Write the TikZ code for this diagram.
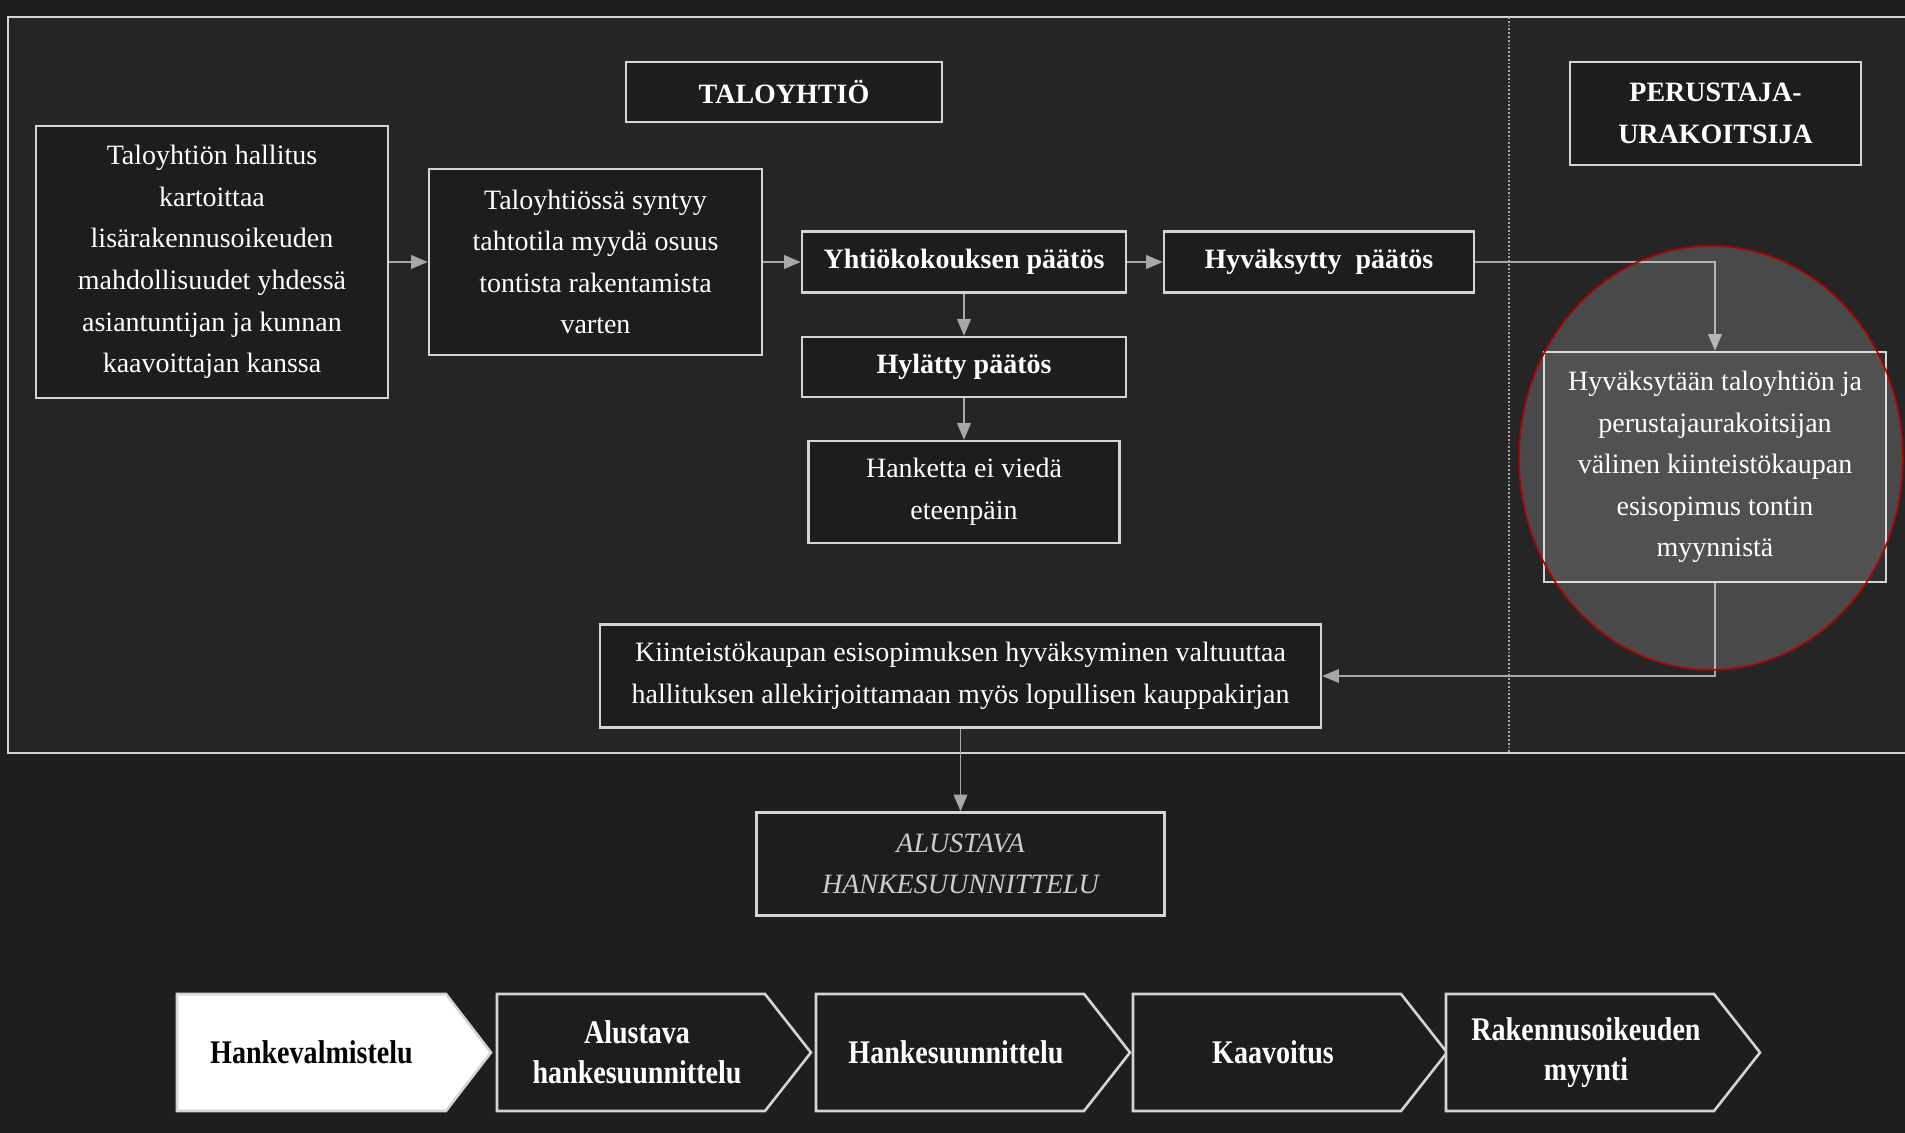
\documentclass[tikz,border=0pt]{standalone}
\usepackage{fontspec}
\setmainfont{Liberation Serif}
\newfontfamily\narrowserif{Liberation Serif}[FakeStretch=0.85]
\usetikzlibrary{arrows,positioning}
\definecolor{bgdark}{HTML}{1E1E1E}
\definecolor{panel}{HTML}{252525}
\definecolor{boxfill}{HTML}{1D1D1D}
\definecolor{linegray}{HTML}{D4D4D4}
\definecolor{wiregray}{HTML}{A8A8A8}
\tikzset{box/.style={draw=linegray, line width=1.3pt, fill=boxfill, text=white,
        align=center, inner sep=0pt, font=\fontsize{14}{20.8}\selectfont}
}
\tikzset{title/.style={box, font=\bfseries\fontsize{14}{20.8}\selectfont}
}
\tikzset{flow/.style={draw=wiregray, line width=0.9pt, -triangle 45}
}
\tikzset{stage/.style={draw=linegray, line width=1.3pt, fill=boxfill}
}
\tikzset{stagetext/.style={text=white, align=center, inner sep=0pt,
        font=\narrowserif\bfseries\fontsize{16.5}{20}\selectfont}
}

\begin{document}
\begin{tikzpicture}[x=0.5pt,y=-0.5pt]
\useasboundingbox (0,0) rectangle (1905,1133);
\fill[bgdark] (0,0) rectangle (1905,1133);
\fill[panel] (8,17) rectangle (1905,753);
% Frame
\draw[linegray, line width=1.3pt] (1905,17) -- (8,17) -- (8,753) -- (1905,753);
% Divider
\draw[wiregray, densely dotted, line width=0.9pt] (1509,17) -- (1509,753);
% Headers
\node[title, minimum width=158pt, minimum height=30pt] (taloyhtio) at (784,92) {TALOYHTIÖ};
\node[title, minimum width=145.5pt, minimum height=51.5pt] (perustaja) at (1715.5,113.5) {PERUSTAJA-\\URAKOITSIJA};
% Taloyhtio side
\node[box, minimum width=176pt, minimum height=136pt] (hallitus) at (212,262)
    {Taloyhtiön hallitus\\kartoittaa\\lisärakennusoikeuden\\mahdollisuudet yhdessä\\asiantuntijan ja kunnan\\kaavoittajan kanssa};
\node[box, minimum width=166.5pt, minimum height=93pt] (tahtotila) at (595.5,262)
    {Taloyhtiössä syntyy\\tahtotila myydä osuus\\tontista rakentamista\\varten};
\node[title, minimum width=162pt, minimum height=30.5pt] (kokous) at (964,262) {Yhtiökokouksen päätös};
\node[title, minimum width=155pt, minimum height=30.5pt] (hyvaksytty) at (1319,262) {Hyväksytty\ \ päätös};
\node[title, minimum width=162pt, minimum height=30pt] (hylatty) at (964,367) {Hylätty päätös};
\node[box, minimum width=155.5pt, minimum height=51pt] (hanke) at (964,492) {Hanketta ei viedä\\eteenpäin};
% Perustaja side
\node[box, fill=black!82, minimum width=171pt, minimum height=115pt] (esisopimus) at (1715,467)
    {Hyväksytään taloyhtiön ja\\perustajaurakoitsijan\\välinen kiinteistökaupan\\esisopimus tontin\\myynnistä};
% Valtuutus
\node[box, minimum width=360.5pt, minimum height=51.5pt] (valtuutus) at (960.5,676)
    {Kiinteistökaupan esisopimuksen hyväksyminen valtuuttaa\\hallituksen allekirjoittamaan myös lopullisen kauppakirjan};
\node[box, minimum width=204pt, minimum height=51.5pt, text=black!20,
    font=\itshape\fontsize{14}{20.8}\selectfont] (alustava) at (960.5,864) {ALUSTAVA\\HANKESUUNNITTELU};
% Lines
\draw[flow] (hallitus.east) -- (tahtotila.west);
\draw[flow] (tahtotila.east) -- (kokous.west);
\draw[flow] (kokous.east) -- (hyvaksytty.west);
\draw[flow] (kokous.south) -- (hylatty.north);
\draw[flow] (hylatty.south) -- (hanke.north);
\draw[flow] (hyvaksytty.east) -| (esisopimus.north);
\draw[flow] (esisopimus.south) |- (valtuutus.east);
\draw[flow] (valtuutus.south) -- (alustava.north);
% Highlight
\draw[red!70!black, line width=0.8pt, fill=white, fill opacity=0.17] (1711,458) ellipse [x radius=96pt, y radius=106pt];
% Stages
\draw[stage, fill=white] (177,994) -- (446,994) -- (491,1052.5) -- (446,1111) -- (177,1111) -- cycle;
\node[stagetext, text=black] (stage1) at (311.5,1052.5) {Hankevalmistelu};
\foreach \xl/\nm/\lab in {497/2/{Alustava\\hankesuunnittelu}, 816/3/Hankesuunnittelu, 1133/4/Kaavoitus, 1446/5/{Rakennusoikeuden\\myynti}} {
    \draw[stage] (\xl,994) -- ++(268,0) -- ++(46,58.5) -- ++(-46,58.5) -- ++(-268,0) -- cycle;
    \node[stagetext] (stage\nm) at (\xl+140,1052.5) {\lab};
}
\end{tikzpicture}
\end{document}
